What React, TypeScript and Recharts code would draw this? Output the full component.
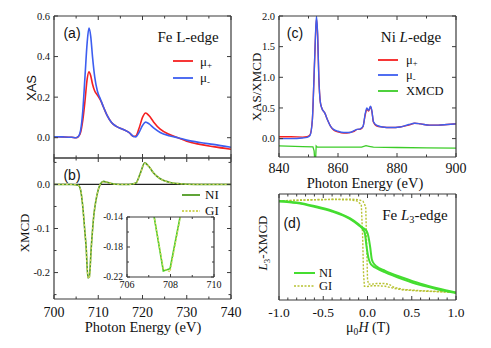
import React from 'react';
import { LineChart, Line, XAxis, YAxis, ReferenceLine, Legend } from 'recharts';

const W = 491;
const H = 348;
const SERIF = '"Liberation Serif", "Times New Roman", serif';
const SANS = '"Liberation Sans", Arial, sans-serif';
const AXIS = '#3a3a3a';

// ---------- (a) Fe L-edge XAS ----------
const feEnergy = [700, 702, 704, 705, 705.5, 706, 706.5, 707, 707.5, 707.9, 708.3, 708.7, 709.2, 709.8, 710.5, 711.2, 712, 713, 714, 715.5, 717, 718, 718.5, 719.2, 720, 720.7, 721.5, 722.5, 724, 726, 728, 730, 733, 736, 740];
const feMuMinus = [0.005, 0.004, 0.002, 0.0, 0.006, 0.035, 0.13, 0.3, 0.47, 0.54, 0.5, 0.4, 0.3, 0.23, 0.19, 0.15, 0.11, 0.075, 0.057, 0.042, 0.025, 0.006, 0.004, 0.025, 0.06, 0.077, 0.068, 0.048, 0.026, 0.01, 0.0, -0.012, -0.024, -0.033, -0.047];
const feMuPlus = [0.005, 0.004, 0.002, 0.0, 0.005, 0.025, 0.085, 0.18, 0.29, 0.325, 0.305, 0.265, 0.23, 0.21, 0.185, 0.15, 0.11, 0.075, 0.057, 0.042, 0.025, 0.006, 0.008, 0.045, 0.1, 0.122, 0.108, 0.078, 0.042, 0.017, 0.0, -0.018, -0.033, -0.044, -0.057];

// ---------- (b) Fe XMCD ----------
const xmcdEnergy = [700, 704, 705.5, 706, 706.5, 707, 707.25, 707.67, 707.98, 708.44, 709, 709.5, 710, 710.5, 711.2, 712, 713, 715, 717, 718.5, 719.5, 720.5, 721.5, 722.5, 724, 726, 728, 732, 740];
const xmcdNI = [0, 0, -0.002, -0.012, -0.05, -0.11, -0.14, -0.212, -0.209, -0.14, -0.07, -0.035, -0.012, 0.001, 0.007, 0.005, 0.002, 0.0, 0.0, 0.003, 0.025, 0.049, 0.04, 0.026, 0.013, 0.005, 0.002, 0.0, 0.0];
const xmcdGI = [0, 0, -0.002, -0.012, -0.05, -0.11, -0.14, -0.209, -0.213, -0.142, -0.07, -0.035, -0.012, 0.001, 0.006, 0.005, 0.002, 0.0, 0.0, 0.003, 0.024, 0.048, 0.04, 0.026, 0.013, 0.005, 0.002, 0.0, 0.0];

// ---------- (c) Ni L-edge ----------
const niEnergy = [840, 844, 848, 849.5, 850.5, 851.3, 851.8, 852.3, 852.7, 853.1, 853.5, 854, 854.5, 855.5, 856.5, 857.5, 858.5, 860, 862, 864, 865.5, 866.5, 867.5, 868.5, 869.2, 869.8, 870.4, 871, 871.5, 872, 873, 875, 878, 881, 884, 886, 888, 891, 894, 897, 900];
const niMuMinus = [0.0, 0.0, 0.01, 0.02, 0.05, 0.3, 0.9, 1.6, 2.0, 1.7, 1.0, 0.6, 0.5, 0.42, 0.3, 0.2, 0.15, 0.12, 0.1, 0.1, 0.13, 0.15, 0.16, 0.2, 0.4, 0.5, 0.46, 0.53, 0.45, 0.28, 0.22, 0.19, 0.18, 0.19, 0.23, 0.25, 0.24, 0.22, 0.22, 0.23, 0.24];
const niMuPlus = [0.03, 0.03, 0.025, 0.03, 0.06, 0.3, 0.9, 1.58, 1.95, 1.68, 1.0, 0.6, 0.5, 0.42, 0.3, 0.2, 0.14, 0.11, 0.09, 0.1, 0.12, 0.15, 0.15, 0.2, 0.38, 0.48, 0.45, 0.52, 0.44, 0.27, 0.21, 0.19, 0.18, 0.19, 0.22, 0.25, 0.24, 0.22, 0.22, 0.23, 0.24];
const niXmcdEnergy = [840, 848, 851.5, 851.9, 852.2, 852.4, 852.6, 853, 860, 868, 869.5, 870.5, 872, 880, 890, 900];
const niXmcd = [-0.12, -0.13, -0.135, -0.2, -0.4, -0.35, -0.12, -0.14, -0.14, -0.14, -0.115, -0.125, -0.14, -0.145, -0.15, -0.155];

// ---------- (d) Fe L3 hysteresis ----------
const loopNI1H = [-1, -0.8, -0.6, -0.4, -0.2, -0.1, -0.05, -0.03, -0.01, 0.01, 0.03, 0.06, 0.1, 0.2, 0.4, 0.6, 0.8, 1];
const loopNI1 = [0.93, 0.915, 0.88, 0.835, 0.765, 0.705, 0.665, 0.63, 0.5, 0.4, 0.35, 0.32, 0.3, 0.26, 0.195, 0.14, 0.1, 0.065];
const loopNI2H = [-1, -0.8, -0.6, -0.4, -0.2, -0.1, -0.05, -0.01, 0.01, 0.03, 0.05, 0.08, 0.1, 0.2, 0.4, 0.6, 0.8, 1];
const loopNI2 = [0.935, 0.92, 0.886, 0.842, 0.772, 0.715, 0.68, 0.65, 0.6, 0.5, 0.38, 0.335, 0.318, 0.275, 0.21, 0.153, 0.108, 0.07];
const loopGI1H = [-1, -0.8, -0.6, -0.4, -0.2, -0.12, -0.07, -0.055, -0.045, -0.035, 0, 0.05, 0.1, 0.2, 0.3, 0.4, 0.6, 0.8, 1];
const loopGI1 = [0.935, 0.94, 0.945, 0.948, 0.945, 0.935, 0.9, 0.6, 0.25, 0.13, 0.128, 0.135, 0.135, 0.13, 0.11, 0.095, 0.085, 0.078, 0.07];
const loopGI2H = [-1, -0.8, -0.6, -0.4, -0.2, -0.1, -0.05, -0.02, -0.01, 0, 0.01, 0.05, 0.1, 0.2, 0.25, 0.3, 0.4, 0.6, 0.8, 1];
const loopGI2 = [0.935, 0.942, 0.947, 0.95, 0.952, 0.947, 0.93, 0.88, 0.55, 0.2, 0.15, 0.15, 0.155, 0.155, 0.145, 0.12, 0.1, 0.088, 0.08, 0.072];

// ---------- ticks ----------
const feXTicks = [700, 705, 710, 715, 720, 725, 730, 735, 740];
const feXMajor = [700, 710, 720, 730, 740];
const xasYTicks = [0, 0.2, 0.4, 0.6];
const xmcdYTicks = [0.05, 0, -0.05, -0.1, -0.15, -0.2, -0.25];
const xmcdYMajor = [0, -0.1, -0.2];
const insetXTicks = [706, 707, 708, 709, 710];
const insetXMajor = [706, 708, 710];
const insetYTicks = [-0.22, -0.2, -0.18, -0.16, -0.14];
const insetYMajor = [-0.22, -0.18, -0.14];
const niXTicks = [840, 850, 860, 870, 880, 890, 900];
const niXMajor = [840, 860, 880, 900];
const niYTicks = [0, 0.5, 1, 1.5, 2];
const fieldTicks = [-1, -0.9, -0.8, -0.7, -0.6, -0.5, -0.4, -0.3, -0.2, -0.1, 0, 0.1, 0.2, 0.3, 0.4, 0.5, 0.6, 0.7, 0.8, 0.9, 1];
const fieldMajor = [-1, -0.5, 0, 0.5, 1];

const feTable = feEnergy.map((e, i) => ({ x: e, plus: feMuPlus[i], minus: feMuMinus[i] }));
const xmcdTable = xmcdEnergy.map((e, i) => ({ x: e, ni: xmcdNI[i], gi: xmcdGI[i] }));
const niTable = niEnergy.map((e, i) => ({ x: e, plus: niMuPlus[i], minus: niMuMinus[i] }));
const niXmcdTable = niXmcdEnergy.map((e, i) => ({ x: e, d: niXmcd[i] }));
const mkLoop = (hs: number[], vs: number[]) => hs.map((h, i) => ({ x: h, v: vs[i] }));

type Side = 'bottom' | 'top' | 'left' | 'right';
type TickOpts = { majors: number[]; fmt?: (v: number) => string; size?: number; major?: number; minor?: number; off?: number };
const inList = (v: number, list: number[]) => list.some((m) => Math.abs(m - v) < 1e-9);

function mkTick(side: Side, o: TickOpts) {
  return (p: any) => {
    const x = Number(p.x);
    const y = Number(p.y);
    const v = Number(p.payload && p.payload.value);
    const maj = inList(v, o.majors);
    const len = maj ? (o.major ?? 4) : (o.minor ?? 2.5);
    const lbl = maj && o.fmt ? o.fmt(v) : null;
    const fs = o.size ?? 13;
    let ln: React.ReactNode = null;
    let tx: React.ReactNode = null;
    if (side === 'bottom') {
      ln = <line x1={x} y1={y} x2={x} y2={y - len} stroke={AXIS} strokeWidth={1} />;
      if (lbl) tx = <text x={x} y={y + (o.off ?? 12)} dy="0.35em" textAnchor="middle" fontSize={fs} fontFamily={SERIF} fill="#111">{lbl}</text>;
    } else if (side === 'top') {
      ln = <line x1={x} y1={y} x2={x} y2={y + len} stroke={AXIS} strokeWidth={1} />;
    } else if (side === 'left') {
      ln = <line x1={x} y1={y} x2={x + len} y2={y} stroke={AXIS} strokeWidth={1} />;
      if (lbl) tx = <text x={x - (o.off ?? 4)} y={y} dy="0.35em" textAnchor="end" fontSize={fs} fontFamily={SERIF} fill="#111">{lbl}</text>;
    } else {
      ln = <line x1={x} y1={y} x2={x - len} y2={y} stroke={AXIS} strokeWidth={1} />;
    }
    return <g>{ln}{tx}</g>;
  };
}

type Rect = { l: number; t: number; r: number; b: number };
const marginOf = (rc: Rect, bottomH: number) => ({ top: 0, left: 0, right: 0, bottom: H - rc.b - bottomH });
const axisLine = { stroke: AXIS, strokeWidth: 1.2 };

type FrameCfg = {
  rc: Rect; bottomH: number;
  xDomain: [number, number]; yDomain: [number, number];
  xTicks: number[]; yTicks: number[];
  xOpts: TickOpts; yOpts: TickOpts;
  showY?: boolean;
};

function frame(c: FrameCfg) {
  const showY = c.showY !== false;
  return [
    <XAxis key="xb" xAxisId="b" dataKey="x" type="number" domain={c.xDomain} allowDataOverflow ticks={c.xTicks} interval={0}
      height={c.bottomH} tickSize={0} tickMargin={0} tickLine={false} axisLine={axisLine} tick={mkTick('bottom', c.xOpts)} />,
    <XAxis key="xt" xAxisId="t" dataKey="x" orientation="top" type="number" domain={c.xDomain} allowDataOverflow ticks={c.xTicks} interval={0}
      height={c.rc.t} tickSize={0} tickMargin={0} tickLine={false} axisLine={axisLine} tick={mkTick('top', { ...c.xOpts, fmt: undefined })} />,
    <YAxis key="yl" yAxisId="l" type="number" domain={c.yDomain} allowDataOverflow ticks={showY ? c.yTicks : undefined} interval={0}
      width={c.rc.l} tickSize={0} tickMargin={0} tickLine={false} axisLine={axisLine} tick={showY ? mkTick('left', c.yOpts) : false} />,
    <YAxis key="yr" yAxisId="r" orientation="right" type="number" domain={c.yDomain} allowDataOverflow ticks={showY ? c.yTicks : undefined} interval={0}
      width={W - c.rc.r} tickSize={0} tickMargin={0} tickLine={false} axisLine={axisLine} tick={showY ? mkTick('right', { ...c.yOpts, fmt: undefined }) : false} />,
  ];
}

type Row = { label: React.ReactNode; color: string; w: number; dash?: string };
function LegendBox({ rows, lineW, gap, font, rowH }: { rows: Row[]; lineW: number; gap: number; font: number; rowH: number }) {
  return (
    <div>
      {rows.map((r, i) => (
        <div key={i} style={{ display: 'flex', alignItems: 'center', height: rowH }}>
          <svg width={lineW} height={6} style={{ display: 'block' }}>
            <line x1={0} y1={3} x2={lineW} y2={3} stroke={r.color} strokeWidth={r.w} strokeDasharray={r.dash} />
          </svg>
          <span style={{ marginLeft: gap, fontFamily: SERIF, fontSize: font, lineHeight: 1, color: '#111', whiteSpace: 'nowrap' }}>{r.label}</span>
        </div>
      ))}
    </div>
  );
}

const Sub = ({ children }: { children: React.ReactNode }) => (
  <span style={{ fontSize: '0.68em', position: 'relative', top: '0.3em', lineHeight: 0 }}>{children}</span>
);

function T({ x, y, children, size = 14, family = SERIF, rotate = 0 }: { x: number; y: number; children: React.ReactNode; size?: number; family?: string; rotate?: number }) {
  return (
    <div style={{ position: 'absolute', left: x, top: y, transform: `translate(-50%, -50%) rotate(${rotate}deg)`, fontFamily: family, fontSize: size, lineHeight: 1, whiteSpace: 'nowrap', color: '#111' }}>
      {children}
    </div>
  );
}

const legendPos = (left: number, top: number) => ({ left, top, width: 'auto', height: 'auto', position: 'absolute' as const });

const RED = '#f52020';
const BLUE = '#3d5ef0';

const rA: Rect = { l: 54, t: 16, r: 231, b: 158 };
const rB: Rect = { l: 54, t: 158, r: 231, b: 299 };
const rI: Rect = { l: 127, t: 217, r: 214, b: 277 };
const rC: Rect = { l: 279, t: 16, r: 456, b: 157 };
const rD: Rect = { l: 279, t: 194, r: 456, b: 300 };

const f1 = (v: number) => v.toFixed(1);
const f2 = (v: number) => v.toFixed(2);
const f0 = (v: number) => v.toFixed(0);

function ChartA() {
  return (
    <LineChart width={W} height={H} data={feTable} margin={marginOf(rA, 20)}>
      {frame({ rc: rA, bottomH: 20, xDomain: [700, 740], yDomain: [-0.1, 0.6], xTicks: feXTicks, yTicks: xasYTicks,
        xOpts: { majors: feXMajor }, yOpts: { majors: xasYTicks, fmt: f1, size: 10.5 } })}
      <Line xAxisId="b" yAxisId="l" dataKey="plus" stroke={RED} strokeWidth={1.6} dot={false} type="monotone" isAnimationActive={false} />
      <Line xAxisId="b" yAxisId="l" dataKey="minus" stroke={BLUE} strokeWidth={1.6} dot={false} type="monotone" isAnimationActive={false} />
      <Legend layout="horizontal" verticalAlign="middle" align="center" wrapperStyle={legendPos(173, 53)}
        content={() => <LegendBox lineW={20} gap={7} font={13} rowH={16.6} rows={[
          { label: <span>μ<Sub>+</Sub></span>, color: RED, w: 1.8 },
          { label: <span>μ<Sub>-</Sub></span>, color: BLUE, w: 1.8 },
        ]} />} />
    </LineChart>
  );
}

function ChartB() {
  return (
    <LineChart width={W} height={H} data={xmcdTable} margin={marginOf(rB, 40)}>
      {frame({ rc: rB, bottomH: 40, xDomain: [700, 740], yDomain: [-0.26, 0.06], xTicks: feXTicks, yTicks: xmcdYTicks,
        xOpts: { majors: feXMajor, fmt: f0, size: 14, off: 13 }, yOpts: { majors: xmcdYMajor, fmt: f1, size: 10.5 } })}
      <ReferenceLine xAxisId="b" yAxisId="l" y={0} stroke="#222" strokeWidth={1.2} />
      <Line xAxisId="b" yAxisId="l" dataKey="ni" stroke="#4f9a22" strokeWidth={1.6} dot={false} type="monotone" isAnimationActive={false} />
      <Line xAxisId="b" yAxisId="l" dataKey="gi" stroke="#cfd45c" strokeWidth={1.3} strokeDasharray="2 2" dot={false} type="monotone" isAnimationActive={false} />
      <Legend layout="horizontal" verticalAlign="middle" align="center" wrapperStyle={legendPos(182, 187)}
        content={() => <LegendBox lineW={18} gap={5} font={13} rowH={15.7} rows={[
          { label: 'NI', color: '#4f9a22', w: 1.8 },
          { label: 'GI', color: '#cfd45c', w: 1.8, dash: '2 1.5' },
        ]} />} />
    </LineChart>
  );
}

function Inset() {
  return (
    <LineChart width={W} height={H} data={xmcdTable} margin={marginOf(rI, 20)}>
      {frame({ rc: rI, bottomH: 20, xDomain: [706, 710], yDomain: [-0.22, -0.14], xTicks: insetXTicks, yTicks: insetYTicks,
        xOpts: { majors: insetXMajor, fmt: f0, size: 10, off: 7, major: 3, minor: 2 },
        yOpts: { majors: insetYMajor, fmt: f2, size: 9.5, off: 4, major: 3, minor: 2 } })}
      <Line xAxisId="b" yAxisId="l" dataKey="ni" stroke="#45cc22" strokeWidth={1.6} dot={false} type="linear" isAnimationActive={false} />
      <Line xAxisId="b" yAxisId="l" dataKey="gi" stroke="#cfd45c" strokeWidth={1.3} strokeDasharray="2 1.5" dot={false} type="linear" isAnimationActive={false} />
    </LineChart>
  );
}

function ChartC() {
  return (
    <LineChart width={W} height={H} data={niTable} margin={marginOf(rC, 20)}>
      {frame({ rc: rC, bottomH: 20, xDomain: [840, 900], yDomain: [-0.3, 2.0], xTicks: niXTicks, yTicks: niYTicks,
        xOpts: { majors: niXMajor, fmt: f0, size: 14, off: 11 }, yOpts: { majors: niYTicks, fmt: f1, size: 10.5 } })}
      <Line xAxisId="b" yAxisId="l" dataKey="plus" stroke={RED} strokeWidth={1.4} dot={false} type="monotone" isAnimationActive={false} />
      <Line xAxisId="b" yAxisId="l" dataKey="minus" stroke={BLUE} strokeWidth={1.4} dot={false} type="monotone" isAnimationActive={false} />
      <Line xAxisId="b" yAxisId="l" data={niXmcdTable} dataKey="d" stroke="#3ccc28" strokeWidth={1.3} dot={false} type="linear" isAnimationActive={false} />
      <Legend layout="horizontal" verticalAlign="middle" align="center" wrapperStyle={legendPos(378, 52)}
        content={() => <LegendBox lineW={20} gap={8} font={12.5} rowH={15.5} rows={[
          { label: <span>μ<Sub>+</Sub></span>, color: RED, w: 1.8 },
          { label: <span>μ<Sub>-</Sub></span>, color: BLUE, w: 1.8 },
          { label: 'XMCD', color: '#3ccc28', w: 1.8 },
        ]} />} />
    </LineChart>
  );
}

function ChartD() {
  return (
    <LineChart width={W} height={H} data={mkLoop(loopNI1H, loopNI1)} margin={marginOf(rD, 20)}>
      {frame({ rc: rD, bottomH: 20, xDomain: [-1, 1], yDomain: [0, 1], xTicks: fieldTicks, yTicks: [],
        xOpts: { majors: fieldMajor, fmt: f1, size: 13.5, off: 12.5 }, yOpts: { majors: [] }, showY: false })}
      <Line xAxisId="b" yAxisId="l" data={mkLoop(loopGI1H, loopGI1)} dataKey="v" stroke="#b8c232" strokeWidth={1.4} strokeDasharray="2 1.5" dot={false} type="linear" isAnimationActive={false} />
      <Line xAxisId="b" yAxisId="l" data={mkLoop(loopGI2H, loopGI2)} dataKey="v" stroke="#b8c232" strokeWidth={1.4} strokeDasharray="2 1.5" dot={false} type="linear" isAnimationActive={false} />
      <Line xAxisId="b" yAxisId="l" data={mkLoop(loopNI1H, loopNI1)} dataKey="v" stroke="#45dd30" strokeWidth={2} dot={false} type="monotone" isAnimationActive={false} />
      <Line xAxisId="b" yAxisId="l" data={mkLoop(loopNI2H, loopNI2)} dataKey="v" stroke="#45dd30" strokeWidth={2} dot={false} type="monotone" isAnimationActive={false} />
      <Legend layout="horizontal" verticalAlign="middle" align="center" wrapperStyle={legendPos(294, 266)}
        content={() => <LegendBox lineW={21} gap={4} font={12.5} rowH={13.5} rows={[
          { label: 'NI', color: '#45dd30', w: 2 },
          { label: 'GI', color: '#b8c232', w: 1.6, dash: '2 1.5' },
        ]} />} />
    </LineChart>
  );
}

const layer: React.CSSProperties = { position: 'absolute', left: 0, top: 0 };

export default function App() {
  return (
    <div style={{ position: 'absolute', left: 0, top: 0, width: W, height: H, background: '#fff', overflow: 'hidden' }}>
      <div style={layer}><ChartA /></div>
      <div style={layer}><ChartB /></div>
      <div style={layer}><Inset /></div>
      <div style={layer}><ChartC /></div>
      <div style={layer}><ChartD /></div>

      <T x={72} y={33} size={14} family={SANS}>(a)</T>
      <T x={188} y={37} size={15}>Fe L-edge</T>
      <T x={72} y={175} size={14} family={SANS}>(b)</T>
      <T x={295} y={33} size={14} family={SANS}>(c)</T>
      <T x={411} y={37} size={15}>Ni <i>L</i>-edge</T>
      <T x={292} y={223} size={14} family={SANS}>(d)</T>
      <T x={415} y={215} size={15}>Fe <i>L</i><Sub>3</Sub>-edge</T>

      <T x={31} y={88} size={13} family={SANS} rotate={-90}>XAS</T>
      <T x={24} y={233} size={13} rotate={-90}>XMCD</T>
      <T x={256} y={87} size={13} rotate={-90}>XAS/XMCD</T>
      <T x={262} y={243} size={13} rotate={-90}><i>L</i><Sub>3</Sub>-XMCD</T>

      <T x={143} y={327} size={14.5}>Photon Energy (eV)</T>
      <T x={365} y={183} size={14.5}>Photon Energy (eV)</T>
      <T x={368} y={328} size={14}>μ<Sub>0</Sub><i>H</i> (T)</T>
    </div>
  );
}
